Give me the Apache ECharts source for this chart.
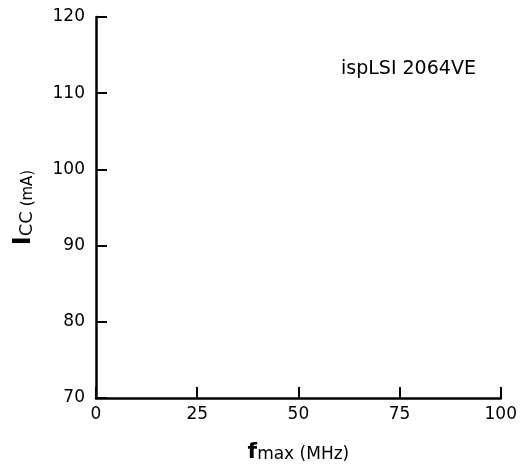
<!DOCTYPE html>
<html>
<head>
<meta charset="utf-8">
<script src="https://cdn.jsdelivr.net/npm/echarts@6/dist/echarts.min.js"></script>
<style>
  html, body { margin: 0; padding: 0; background: #fff; }
  #chart { width: 520px; height: 470px; }
</style>
</head>
<body>
<div id="chart"></div>
<script>
// axis ranges / tick labels
const xTicks = [0, 25, 50, 75, 100];
const yTicks = [70, 80, 90, 100, 110, 120];
// no curve is printed on this plot
const iccValues = [];
const deviceLabel = 'ispLSI 2064VE';

const chart = echarts.init(document.getElementById('chart'));

const axisLine = { lineStyle: { color: '#000', width: 2.5 } };
const axisTick = { inside: true, length: 11, lineStyle: { color: '#000', width: 2 } };
const tickFont = { color: '#000', fontSize: 17, fontFamily: 'DejaVu Sans' };

const option = {
  backgroundColor: '#fff',
  animation: false,
  title: {
    text: deviceLabel,
    left: 336,
    top: 55,
    textStyle: { color: '#000', fontSize: 19, fontWeight: 'normal', fontFamily: 'DejaVu Sans' }
  },
  grid: { left: 96, right: 17, top: 17, bottom: 72 },
  xAxis: {
    type: 'value',
    min: xTicks[0],
    max: xTicks[xTicks.length - 1],
    interval: xTicks[1] - xTicks[0],
    axisLine: axisLine,
    axisTick: axisTick,
    splitLine: { show: false },
    axisLabel: Object.assign({ margin: 8 }, tickFont),
    name: '{b|f}{m|max (MHz)}',
    nameLocation: 'middle',
    nameGap: 43,
    nameTextStyle: {
      rich: {
        b: { fontSize: 22, fontWeight: 'bold', color: '#000', fontFamily: 'DejaVu Sans', verticalAlign: 'bottom' },
        m: { fontSize: 17, color: '#000', fontFamily: 'DejaVu Sans', verticalAlign: 'bottom' }
      }
    }
  },
  yAxis: {
    type: 'value',
    min: yTicks[0],
    max: yTicks[yTicks.length - 1],
    interval: yTicks[1] - yTicks[0],
    axisLine: Object.assign({ show: true }, axisLine),
    axisTick: Object.assign({ show: true }, axisTick),
    splitLine: { show: false },
    axisLabel: Object.assign({ margin: 11 }, tickFont),
    name: '{b|I}{s|CC}{m| (mA)}',
    nameLocation: 'middle',
    nameRotate: 90,
    nameGap: 60,
    nameTextStyle: {
      rich: {
        b: { fontSize: 24, fontWeight: 'bold', color: '#000', fontFamily: 'DejaVu Sans', verticalAlign: 'bottom' },
        s: { fontSize: 18, color: '#000', fontFamily: 'DejaVu Sans', verticalAlign: 'bottom' },
        m: { fontSize: 15, color: '#000', fontFamily: 'DejaVu Sans', verticalAlign: 'bottom' }
      }
    }
  },
  series: [{
    name: 'ICC',
    type: 'line',
    data: iccValues,
    showSymbol: false,
    lineStyle: { color: '#000', width: 2 }
  }]
};

chart.setOption(option);
</script>
</body>
</html>
